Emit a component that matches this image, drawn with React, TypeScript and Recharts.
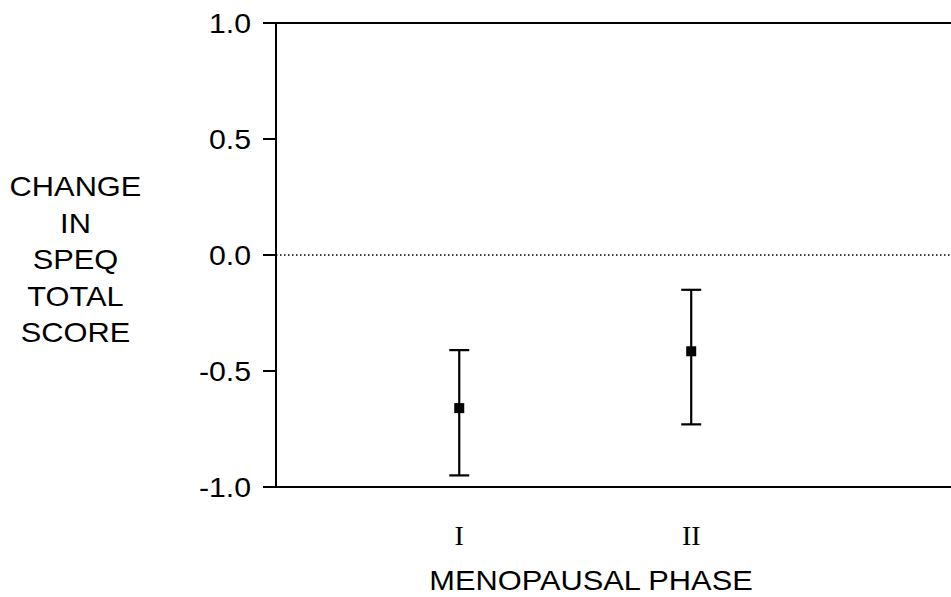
import {
  ScatterChart,
  Scatter,
  XAxis,
  YAxis,
  ErrorBar,
  ReferenceLine,
} from "recharts";

const phases = ["I", "II"];
const phasePos = [1, 2];
const means = [-0.66, -0.415];
const lowers = [-0.95, -0.73];
const uppers = [-0.41, -0.15];
const yTicks = [-1, -0.5, 0, 0.5, 1];

const data = phases.map((p, i) => ({
  phase: p,
  x: phasePos[i],
  y: means[i],
  err: [means[i] - lowers[i], uppers[i] - means[i]],
}));

const sans = "'Liberation Sans', Arial, sans-serif";

const YTick = (props: any) => {
  const { x, y, payload } = props;
  return (
    <g transform={`translate(${x},${y}) scale(1.08,1)`}>
      <text
        x={0}
        y={0}
        dy={10}
        textAnchor="end"
        fontFamily={sans}
        fontSize={28}
        fill="#000"
      >
        {Number(payload.value).toFixed(1)}
      </text>
    </g>
  );
};

const XTick = (props: any) => {
  const { x, y, payload } = props;
  return (
    <text
      x={x}
      y={y}
      dy={28}
      textAnchor="middle"
      fontFamily="'Liberation Serif', 'Times New Roman', serif"
      fontSize={28}
      fill="#000"
    >
      {phases[payload.value - 1]}
    </text>
  );
};

const Square = (props: any) => {
  const { cx, cy } = props;
  return <rect x={cx - 5} y={cy - 5} width={10} height={10} fill="#000" />;
};

export default function App() {
  return (
    <div
      style={{
        position: "absolute",
        left: 0,
        top: 0,
        width: 951,
        height: 597,
        overflow: "hidden",
        background: "#fff",
      }}
    >
      <ScatterChart
        width={951}
        height={597}
        margin={{ top: 23, right: 0, bottom: 0, left: 0 }}
      >
        <XAxis
          type="number"
          dataKey="x"
          domain={[0.21, 3.12]}
          ticks={phasePos}
          allowDataOverflow
          height={110}
          tickSize={0}
          tickMargin={30}
          tickLine={false}
          axisLine={{ stroke: "#000", strokeWidth: 2 }}
          tick={<XTick />}
        />
        <YAxis
          type="number"
          dataKey="y"
          domain={[-1, 1]}
          ticks={yTicks}
          width={276}
          tickSize={13}
          tickMargin={12}
          tickLine={{ stroke: "#000", strokeWidth: 2 }}
          axisLine={{ stroke: "#000", strokeWidth: 2 }}
          tick={<YTick />}
        />
        <ReferenceLine y={1} stroke="#000" strokeWidth={2} />
        <ReferenceLine y={0} stroke="#000" strokeWidth={1.5} strokeDasharray="1.5 2.5" />
        <Scatter data={data} shape={<Square />} isAnimationActive={false}>
          <ErrorBar dataKey="err" direction="y" width={10} stroke="#000" strokeWidth={2.2} />
        </Scatter>
      </ScatterChart>
      <div
        style={{
          position: "absolute",
          left: 0,
          top: 169,
          width: 151,
          textAlign: "center",
          fontFamily: sans,
          fontSize: 28,
          lineHeight: "36.5px",
          color: "#000",
          transform: "scaleX(1.1)",
        }}
      >
        CHANGE
        <br />
        IN
        <br />
        SPEQ
        <br />
        TOTAL
        <br />
        SCORE
      </div>
      <div
        style={{
          position: "absolute",
          left: 391,
          top: 567,
          width: 400,
          textAlign: "center",
          fontFamily: sans,
          fontSize: 28,
          lineHeight: "28px",
          color: "#000",
          whiteSpace: "nowrap",
          transform: "scaleX(1.1)",
        }}
      >
        MENOPAUSAL PHASE
      </div>
    </div>
  );
}
